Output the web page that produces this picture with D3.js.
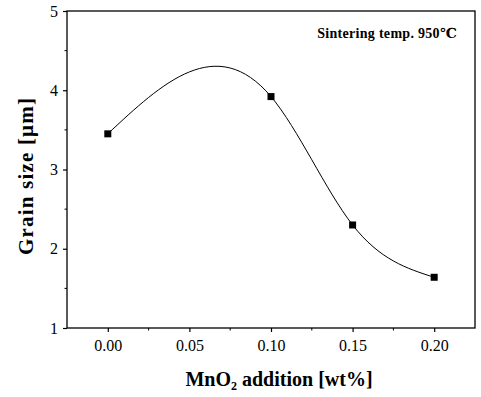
<!DOCTYPE html>
<html>
<head>
<meta charset="utf-8">
<style>
  body { margin: 0; background: #fff; }
  svg { display: block; }
  text { font-family: "Liberation Serif", "DejaVu Serif", serif; fill: #000; }
</style>
<script src="https://d3js.org/d3.v7.min.js"></script>
</head>
<body>
<svg></svg>
<script>
// data
var mnO2 = [0.00, 0.10, 0.15, 0.20];
var grainSize = [3.45, 3.92, 2.30, 1.64];
var xTicks = [0.00, 0.05, 0.10, 0.15, 0.20];
var yTicks = [1, 2, 3, 4, 5];

var width = 481, height = 397;
var svg = d3.select("svg").attr("width", width).attr("height", height);

var x = d3.scaleLinear().domain([-0.025, 0.225]).range([67, 475]);
var y = d3.scaleLinear().domain([1, 5]).range([328, 11]);

// frame
svg.append("rect")
    .attr("x", x.range()[0]).attr("y", y.range()[1])
    .attr("width", x.range()[1] - x.range()[0])
    .attr("height", y.range()[0] - y.range()[1])
    .attr("fill", "none").attr("stroke", "#000").attr("stroke-width", 1.3);

// axes
var gx = svg.append("g").attr("transform", "translate(0," + y.range()[0] + ")")
    .call(d3.axisBottom(x).tickValues(xTicks).tickFormat(d3.format(".2f")).tickSize(4).tickPadding(8));
var gy = svg.append("g").attr("transform", "translate(" + x.range()[0] + ",0)")
    .call(d3.axisLeft(y).tickValues(yTicks).tickFormat(d3.format("d")).tickSize(4).tickPadding(5));
[gx, gy].forEach(function(g) {
  g.select(".domain").remove();
  g.selectAll("text").attr("font-size", 16).attr("font-family", "Liberation Serif");
  g.selectAll("line").attr("stroke-width", 1.2);
});

// minor ticks
svg.append("g").selectAll("line")
  .data([0.025, 0.075, 0.125, 0.175])
  .enter().append("line")
    .attr("x1", function(d) { return x(d); }).attr("x2", function(d) { return x(d); })
    .attr("y1", y.range()[0]).attr("y2", y.range()[0] + 2.5)
    .attr("stroke", "#000");
svg.append("g").selectAll("line")
  .data([1.5, 2.5, 3.5, 4.5])
  .enter().append("line")
    .attr("y1", function(d) { return y(d); }).attr("y2", function(d) { return y(d); })
    .attr("x1", x.range()[0]).attr("x2", x.range()[0] - 2.5)
    .attr("stroke", "#000");

// natural cubic spline through the points (non-uniform spacing), drawn as bezier segments
function splineSlopes(xs, ys) {
  var n = xs.length, h = [], M = new Array(n).fill(0);
  for (var i = 0; i < n - 1; i++) h.push(xs[i + 1] - xs[i]);
  // tridiagonal system for interior second derivatives
  var a = [], b = [], c = [], r = [];
  for (var i = 1; i < n - 1; i++) {
    a.push(h[i - 1]); b.push(2 * (h[i - 1] + h[i])); c.push(h[i]);
    r.push(6 * ((ys[i + 1] - ys[i]) / h[i] - (ys[i] - ys[i - 1]) / h[i - 1]));
  }
  var m = r.length;
  for (var i = 1; i < m; i++) {
    var w = a[i] / b[i - 1];
    b[i] -= w * c[i - 1]; r[i] -= w * r[i - 1];
  }
  for (var i = m - 1; i >= 0; i--) {
    M[i + 1] = (r[i] - (i < m - 1 ? c[i] * M[i + 2] : 0)) / b[i];
  }
  var d = [];
  for (var i = 0; i < n - 1; i++) d.push((ys[i + 1] - ys[i]) / h[i] - h[i] * (2 * M[i] + M[i + 1]) / 6);
  d.push((ys[n - 1] - ys[n - 2]) / h[n - 2] + h[n - 2] * (M[n - 2] + 2 * M[n - 1]) / 6);
  return d;
}
var slopes = splineSlopes(mnO2, grainSize);
var p = d3.path();
p.moveTo(x(mnO2[0]), y(grainSize[0]));
for (var i = 0; i < mnO2.length - 1; i++) {
  var hh = (mnO2[i + 1] - mnO2[i]) / 3;
  p.bezierCurveTo(
    x(mnO2[i] + hh), y(grainSize[i] + slopes[i] * hh),
    x(mnO2[i + 1] - hh), y(grainSize[i + 1] - slopes[i + 1] * hh),
    x(mnO2[i + 1]), y(grainSize[i + 1]));
}
svg.append("path").attr("d", p.toString())
    .attr("fill", "none").attr("stroke", "#000").attr("stroke-width", 1);

// markers
svg.append("g").selectAll("rect")
  .data(mnO2)
  .enter().append("rect")
    .attr("x", function(d) { return x(d) - 3.5; })
    .attr("y", function(d, i) { return y(grainSize[i]) - 3.5; })
    .attr("width", 7).attr("height", 7)
    .attr("fill", "#000");

// annotation
svg.append("text")
    .attr("x", 457).attr("y", 38)
    .attr("text-anchor", "end")
    .attr("font-size", 14).attr("font-weight", "bold")
    .attr("letter-spacing", 0.3)
    .text("Sintering temp. 950\u2103");

// axis titles
var xt = svg.append("text")
    .attr("x", 279).attr("y", 386)
    .attr("text-anchor", "middle")
    .attr("font-size", 20).attr("font-weight", "bold");
xt.append("tspan").text("MnO");
xt.append("tspan").attr("font-size", 12).attr("dy", 4).text("2");
xt.append("tspan").attr("dy", -4).text(" addition [wt%]");

svg.append("text")
    .attr("transform", "translate(33,176) rotate(-90)")
    .attr("text-anchor", "middle")
    .attr("font-size", 21).attr("font-weight", "bold")
    .attr("letter-spacing", 1.2)
    .text("Grain size [\u03bcm]");
</script>
</body>
</html>
